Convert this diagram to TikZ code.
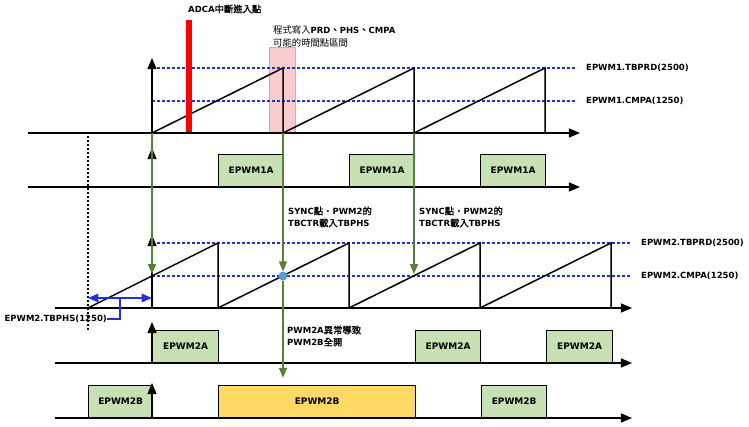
\documentclass[tikz,border=0pt]{standalone}
\usepackage{fontspec}
\setmainfont{DejaVu Sans}
\newfontfamily\cjk[Scale=1.1, AutoFakeBold=1.5]{Noto Sans CJK TC}
\usepackage{tikz}
\usetikzlibrary{arrows}
\definecolor{pulsegreen}{RGB}{199,225,180}
\definecolor{faultyellow}{RGB}{255,217,102}
\definecolor{syncgreen}{RGB}{84,130,53}
\definecolor{levelblue}{RGB}{30,50,220}
\definecolor{windowpink}{RGB}{248,204,204}
\definecolor{windowedge}{RGB}{232,160,160}
\definecolor{dotblue}{RGB}{91,155,213}
\tikzset{%
  axis/.style={->, >=triangle 45, line width=1.6pt},
  saw/.style={line width=1.5pt},
  level/.style={levelblue, line width=1.4pt, dash pattern=on 3pt off 2pt},
  pulse/.style={draw=black, line width=1.3pt, fill=pulsegreen, minimum width=65pt,
    minimum height=32pt, anchor=south west, inner sep=0pt,
    font=\fontsize{9}{12}\selectfont\bfseries},
  lbl/.style={anchor=west, inner sep=0pt, align=left},
  syncline/.style={->, >=triangle 45, syncgreen, line width=1.3pt},
  phsline/.style={levelblue, line width=1.4pt}
}

\begin{document}
\begin{tikzpicture}[x=1pt, y=-1pt,
    every node/.style={font=\fontsize{8.5}{12}\selectfont\bfseries}]
  \useasboundingbox (0,0) rectangle (749,427);

  \node[draw=windowedge, fill=windowpink, minimum width=26pt, minimum height=86pt,
    anchor=south west, inner sep=0pt] (win) at (269,133) {};
  \node[lbl, font=\fontsize{8.5}{13}\selectfont\bfseries] (winlbl) at (273,36)
    {{\cjk\mdseries 程式寫入}PRD{\cjk 、}PHS{\cjk 、}CMPA\\{\cjk\mdseries 可能的時間點區間}};

  \node[lbl] (prd1) at (586,68) {EPWM1.TBPRD(2500)};
  \node[lbl] (cmp1) at (586,101) {EPWM1.CMPA(1250)};
  \node[lbl] (prd2) at (641,243) {EPWM2.TBPRD(2500)};
  \node[lbl] (cmp2) at (641,276) {EPWM2.CMPA(1250)};
  \draw[level, shorten >=9pt] (152,68) -- (prd1.west);
  \draw[level, shorten >=9pt] (152,101) -- (cmp1.west);
  \draw[level, shorten >=11pt] (152,243) -- (prd2.west);
  \draw[level, shorten >=11pt] (152,276) -- (cmp2.west);

  \foreach \s in {152,283,414}
    \draw[saw] (\s,133) -- ++(131,-65) -- ++(0,65);
  \draw[saw] (88,308) -- (218,243) -- (218,308);
  \foreach \s in {218,349,480}
    \draw[saw] (\s,308) -- ++(131,-65) -- ++(0,65);

  \node[fill=red, minimum width=6pt, minimum height=113pt, anchor=south west,
    inner sep=0pt] (adc) at (186,133) {};
  \node[lbl] (adclbl) at (188,9) {ADCA{\cjk 中斷進入點}};

  \node[pulse] (a1) at (218,187) {EPWM1A};
  \node[pulse] (a2) at (349,187) {EPWM1A};
  \node[pulse] (a3) at (480,187) {EPWM1A};
  \node[pulse, minimum width=66pt] (c1) at (152,363) {EPWM2A};
  \node[pulse] (c2) at (415,363) {EPWM2A};
  \node[pulse, minimum width=66pt] (c3) at (546,363) {EPWM2A};
  \node[pulse, minimum width=64pt] (b1) at (88,418) {EPWM2B};
  \node[pulse, minimum width=197pt, fill=faultyellow] (bfault) at (218,418) {EPWM2B};
  \node[pulse] (b2) at (481,418) {EPWM2B};

  \draw[axis] (28,133) -- (580,133);
  \draw[axis] (152,133) -- (152,58);
  \draw[axis] (28,187) -- (580,187);
  \draw[axis] (152,187) -- (152,148);
  \draw[axis] (55,308) -- (632,308);
  \draw[axis] (152,308) -- (152,235);
  \draw[axis] (55,363) -- (632,363);
  \draw[axis] (152,363) -- (152,322);
  \draw[axis] (55,418) -- (632,418);
  \draw[axis] (152,418) -- (152,383);

  \draw[line width=1.2pt, dash pattern=on 2pt off 2pt] (88,136) -- (88,330);
  \coordinate (p0) at (88,298);
  \coordinate (p1) at (152,298);
  \draw[phsline, <->, >=triangle 45] (p0) -- (p1);
  \node[lbl, anchor=east] (phs) at (107,319) {EPWM2.TBPHS(1250)};
  \draw[phsline] (120,298) |- (phs.east);

  \coordinate (s1) at (152,133);
  \coordinate (s2) at (283,133);
  \coordinate (s3) at (414,133);
  \node[circle, fill=dotblue, inner sep=0pt, minimum size=9pt] (hit) at (283,276) {};
  \draw[syncline] (s1) -- (152,274);
  \draw[syncline] (s2) -- (hit);
  \draw[syncline] (s3) -- (414,274);
  \draw[syncline, shorten >=7pt] (hit) -- (hit |- bfault.north);

  \node[lbl] (sync1) at (288,217) {SYNC{\cjk 點・}PWM2{\cjk 的}\\TBCTR{\cjk 載入}TBPHS};
  \node[lbl] (sync2) at (419,217) {SYNC{\cjk 點・}PWM2{\cjk 的}\\TBCTR{\cjk 載入}TBPHS};
  \node[lbl] (note) at (287,336) {PWM2A{\cjk 異常導致}\\PWM2B{\cjk 全開}};
\end{tikzpicture}
\end{document}
